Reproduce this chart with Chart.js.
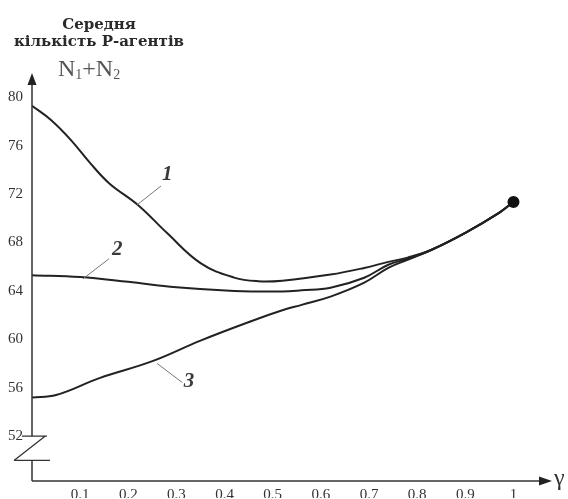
<!DOCTYPE html>
<html>
<head>
<meta charset="utf-8">
<script src="https://cdn.jsdelivr.net/npm/chart.js@4"></script>
<style>
  html, body { margin: 0; padding: 0; background: #fff; }
  #wrap { width: 568px; height: 499px; position: relative; }
</style>
</head>
<body>
<div id="wrap"><canvas id="c"></canvas></div>
<script>
// ---- data ----
const gamma1 = [0, 0.04, 0.08, 0.12, 0.16, 0.22, 0.28, 0.35, 0.42, 0.47, 0.52, 0.62, 0.69, 0.74, 0.78, 0.83, 0.9, 0.97, 1.0];
const curve1 = [79.3, 78.1, 76.5, 74.6, 72.9, 71.1, 68.8, 66.3, 65.1, 64.8, 64.85, 65.35, 65.9, 66.4, 66.75, 67.4, 68.8, 70.45, 71.35];
const gamma2 = [0, 0.1, 0.2, 0.3, 0.42, 0.52, 0.56, 0.62, 0.69, 0.74, 0.78, 0.83, 0.9, 0.97, 1.0];
const curve2 = [65.3, 65.15, 64.75, 64.3, 64.0, 63.95, 64.05, 64.27, 65.09, 66.16, 66.66, 67.4, 68.8, 70.45, 71.35];
const gamma3 = [0, 0.05, 0.14, 0.25, 0.35, 0.455, 0.52, 0.56, 0.62, 0.69, 0.74, 0.78, 0.83, 0.9, 0.97, 1.0];
const curve3 = [55.2, 55.4, 56.8, 58.2, 59.9, 61.5, 62.4, 62.85, 63.53, 64.68, 65.91, 66.57, 67.4, 68.8, 70.45, 71.35];
const xTicks = [0.1, 0.2, 0.3, 0.4, 0.5, 0.6, 0.7, 0.8, 0.9, 1];
const yTicks = [52, 56, 60, 64, 68, 72, 76, 80];
const curveNames = ["1", "2", "3"];
const titleLines = ["Середня", "кількість Р-агентів"];
const xAxisName = "γ";

const toPts = (xs, ys) => xs.map((x, i) => ({ x: x, y: ys[i] }));

// annotation anchors in data space: [labelX, labelY, leaderFromX, leaderFromY, leaderToX, leaderToY]
const labelAnchors = [
  [0.281, 73.57, 0.268, 72.67, 0.218, 71.1],
  [0.177, 67.4, 0.160, 66.66, 0.106, 65.0],
  [0.326, 56.5, 0.312, 56.44, 0.260, 58.0]
];

const decor = {
  id: 'decor',
  afterDraw(chart) {
    const ctx = chart.ctx;
    const xs = chart.scales.x, ys = chart.scales.y;
    const area = chart.chartArea;
    const x0 = xs.getPixelForValue(0);
    const yb = area.bottom;
    const yTop = ys.getPixelForValue(82);
    const y52 = ys.getPixelForValue(52);
    const y50 = ys.getPixelForValue(50);
    const xEnd = xs.getPixelForValue(1.08);
    ctx.save();
    ctx.strokeStyle = '#333';
    ctx.fillStyle = '#222';
    ctx.lineWidth = 1.5;
    // x axis
    ctx.beginPath();
    ctx.moveTo(x0, yb); ctx.lineTo(xEnd - 10, yb);
    ctx.stroke();
    ctx.beginPath();
    ctx.moveTo(xEnd, yb); ctx.lineTo(xEnd - 13, yb - 4.5); ctx.lineTo(xEnd - 13, yb + 4.5); ctx.closePath();
    ctx.fill();
    // y axis with break
    ctx.beginPath();
    ctx.moveTo(x0, yb); ctx.lineTo(x0, y50);
    ctx.moveTo(x0, y52); ctx.lineTo(x0, yTop + 8);
    ctx.stroke();
    ctx.beginPath();
    ctx.moveTo(x0, yTop); ctx.lineTo(x0 - 4.5, yTop + 12); ctx.lineTo(x0 + 4.5, yTop + 12); ctx.closePath();
    ctx.fill();
    // break zigzag
    ctx.lineWidth = 1.3;
    ctx.beginPath();
    ctx.moveTo(x0 - 10, y52); ctx.lineTo(x0 + 15, y52);
    ctx.moveTo(x0 + 13, y52); ctx.lineTo(x0 - 18, y50);
    ctx.moveTo(x0 - 18, y50); ctx.lineTo(x0 + 18, y50);
    ctx.stroke();

    // gamma label
    ctx.fillStyle = '#333';
    ctx.font = '24px "Liberation Serif"';
    ctx.textAlign = 'left';
    ctx.textBaseline = 'middle';
    ctx.fillText(xAxisName, xEnd + 2, yb - 2);

    // title
    ctx.fillStyle = '#2a2a2a';
    ctx.font = 'bold 15px "DejaVu Serif"';
    ctx.textAlign = 'center';
    ctx.textBaseline = 'alphabetic';
    ctx.fillText(titleLines[0], 99, 29);
    ctx.fillText(titleLines[1], 99, 46);

    // N1+N2
    ctx.fillStyle = '#555';
    ctx.textAlign = 'left';
    let cx = 58;
    const parts = [["N", 0, 24], ["1", 3, 14], ["+N", 0, 24], ["2", 3, 14]];
    for (const [t, dy, fs] of parts) {
      ctx.font = fs + 'px "Liberation Serif"';
      ctx.fillText(t, cx, 76 + dy);
      cx += ctx.measureText(t).width;
    }

    // curve labels with leaders
    ctx.strokeStyle = '#777';
    ctx.lineWidth = 1;
    ctx.fillStyle = '#3a3a3a';
    ctx.font = 'italic bold 21px "Liberation Serif"';
    ctx.textAlign = 'center';
    ctx.textBaseline = 'middle';
    labelAnchors.forEach((a, i) => {
      ctx.beginPath();
      ctx.moveTo(xs.getPixelForValue(a[2]), ys.getPixelForValue(a[3]));
      ctx.lineTo(xs.getPixelForValue(a[4]), ys.getPixelForValue(a[5]));
      ctx.stroke();
      ctx.fillText(curveNames[i], xs.getPixelForValue(a[0]), ys.getPixelForValue(a[1]));
    });
    ctx.restore();
  }
};

const lineStyle = {
  borderColor: '#222',
  borderWidth: 2,
  pointRadius: 0,
  fill: false,
  tension: 0.4
};

new Chart(document.getElementById('c'), {
  type: 'line',
  data: {
    datasets: [
      Object.assign({}, lineStyle, {
        label: curveNames[0], data: toPts(gamma1, curve1),
        pointRadius: ctx => ctx.dataIndex === gamma1.length - 1 ? 5 : 0,
        pointBackgroundColor: '#111', pointBorderColor: '#111'
      }),
      Object.assign({}, lineStyle, { label: curveNames[1], data: toPts(gamma2, curve2) }),
      Object.assign({}, lineStyle, { label: curveNames[2], data: toPts(gamma3, curve3) })
    ]
  },
  options: {
    responsive: true,
    maintainAspectRatio: false,
    animation: false,
    layout: { padding: { top: 73, right: 16, left: 0, bottom: 0 } },
    plugins: { legend: { display: false }, tooltip: { enabled: false }, title: { display: false } },
    scales: {
      x: {
        type: 'linear', min: 0, max: 1.08,
        grid: { display: false, drawTicks: false }, border: { display: false },
        afterBuildTicks: s => { s.ticks = xTicks.map(v => ({ value: v })); },
        afterFit: s => { s.height = 17; },
        ticks: {
          color: '#333', padding: 5, maxRotation: 0, autoSkip: false,
          font: { family: '"Liberation Serif"', size: 15 },
          callback: v => String(v)
        }
      },
      y: {
        type: 'linear', min: 48.3, max: 82,
        grid: { display: false, drawTicks: false }, border: { display: false },
        afterBuildTicks: s => { s.ticks = yTicks.map(v => ({ value: v })); },
        afterFit: s => { s.width = 32; },
        ticks: {
          color: '#333', padding: 9, autoSkip: false,
          font: { family: '"Liberation Serif"', size: 15 },
          callback: v => String(v)
        }
      }
    }
  },
  plugins: [decor]
});
</script>
</body>
</html>
